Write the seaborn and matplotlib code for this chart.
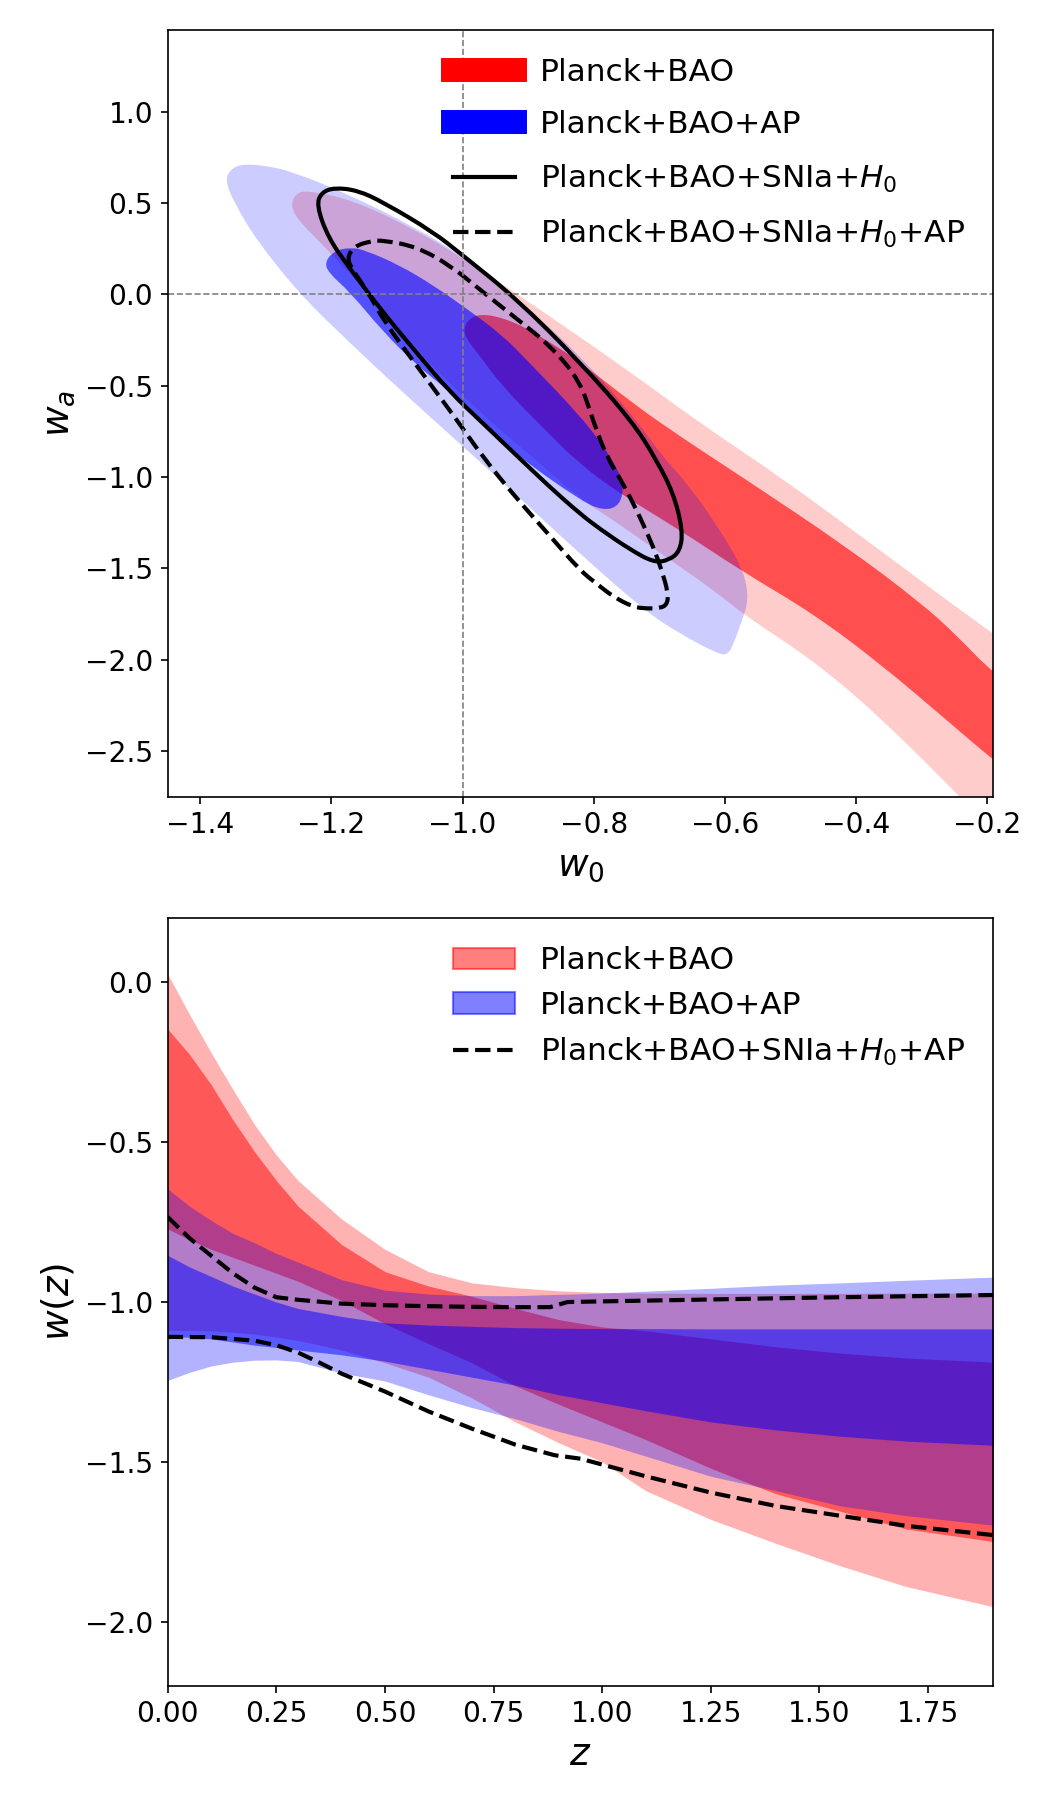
import numpy as np
import matplotlib
matplotlib.use("Agg")
import matplotlib.pyplot as plt
import seaborn as sns
from matplotlib.lines import Line2D
from matplotlib.patches import Patch, PathPatch
from matplotlib.path import Path

# ---------------- top panel: w0 - wa contours ----------------
# Planck+BAO, 2 sigma
red_out_w0 = [-1.238, -1.17, -1.08, -1.00, -0.92, -0.821, -0.727, -0.633, -0.515, -0.363, -0.261, -0.19,
              -0.10, -0.10, -0.21, -0.241, -0.363, -0.465, -0.566, -0.617, -0.668, -0.719, -0.770, -0.821,
              -0.90, -0.981, -1.08, -1.15, -1.223, -1.253, -1.262, -1.255]
red_out_wa = [0.571, 0.52, 0.37, 0.20, 0.01, -0.232, -0.469, -0.716, -0.999, -1.400, -1.674, -1.857,
              -2.10, -2.90, -2.87, -2.75, -2.313, -2.003, -1.766, -1.619, -1.492, -1.364, -1.236, -1.117,
              -0.87, -0.622, -0.27, 0.03, 0.307, 0.416, 0.489, 0.55]
# Planck+BAO, 1 sigma
red_in_w0 = [-0.998, -0.988, -0.965, -0.920, -0.867, -0.821, -0.760, -0.694, -0.566, -0.414, -0.300, -0.245,
             -0.190, -0.10, -0.10, -0.190, -0.261, -0.363, -0.465, -0.572, -0.668, -0.760, -0.821, -0.880,
             -0.940, -0.975, -0.995]
red_in_wa = [-0.18, -0.125, -0.105, -0.150, -0.260, -0.369, -0.540, -0.716, -1.017, -1.382, -1.690, -1.870,
             -2.076, -2.30, -2.80, -2.550, -2.331, -2.021, -1.747, -1.519, -1.291, -1.090, -0.93, -0.72,
             -0.50, -0.33, -0.24]
# Planck+BAO+AP, 2 sigma
blue_out_w0 = [-1.362, -1.355, -1.335, -1.300, -1.259, -1.172, -1.070, -0.994, -0.917, -0.821, -0.734, -0.699,
               -0.653, -0.607, -0.571, -0.563, -0.575, -0.585, -0.595, -0.612, -0.668, -0.719, -0.821, -0.917,
               -1.0, -1.096, -1.172, -1.248, -1.315, -1.348]
blue_out_wa = [0.62, 0.685, 0.715, 0.705, 0.672, 0.545, 0.363, 0.197, -0.021, -0.332, -0.688, -0.870,
               -1.052, -1.290, -1.510, -1.673, -1.80, -1.90, -1.975, -1.965, -1.858, -1.74, -1.42, -1.10,
               -0.83, -0.52, -0.265, 0.0, 0.30, 0.50]
# Planck+BAO+AP, 1 sigma
blue_in_w0 = [-1.21, -1.195, -1.170, -1.147, -1.096, -1.045, -0.994, -0.94, -0.898, -0.824, -0.782, -0.757,
              -0.755, -0.765, -0.785, -0.815, -0.918, -0.969, -1.019, -1.070, -1.121, -1.172, -1.205]
blue_in_wa = [0.18, 0.24, 0.258, 0.240, 0.160, 0.051, -0.077, -0.22, -0.374, -0.650, -0.843, -1.0,
              -1.10, -1.165, -1.18, -1.14, -0.88, -0.70, -0.533, -0.387, -0.205, 0.014, 0.12]
# Planck+BAO+SNIa+H0
sn_w0 = [-1.223, -1.215, -1.195, -1.160, -1.121, -1.045, -1.0, -0.918, -0.821, -0.740, -0.704, -0.678,
         -0.664, -0.668, -0.685, -0.708, -0.745, -0.790, -0.821, -0.867, -0.918, -0.969, -1.019, -1.070,
         -1.121, -1.172, -1.205]
sn_wa = [0.49, 0.56, 0.585, 0.57, 0.505, 0.343, 0.215, -0.022, -0.369, -0.70, -0.907, -1.090,
         -1.291, -1.405, -1.455, -1.468, -1.395, -1.285, -1.200, -1.054, -0.880, -0.705, -0.535, -0.32,
         -0.10, 0.142, 0.31]
# Planck+BAO+SNIa+H0+AP
snap_w0 = [-1.177, -1.165, -1.140, -1.121, -1.070, -1.019, -0.969, -0.918, -0.867, -0.821, -0.800, -0.780,
           -0.755, -0.729, -0.709, -0.696, -0.686, -0.688, -0.700, -0.719, -0.740, -0.770, -0.795, -0.821,
           -0.867, -0.918, -0.969, -1.010, -1.070, -1.121, -1.142, -1.165]
snap_wa = [0.197, 0.265, 0.292, 0.297, 0.261, 0.160, 0.014, -0.131, -0.278, -0.470, -0.700, -0.889,
           -1.035, -1.220, -1.382, -1.510, -1.637, -1.700, -1.718, -1.720, -1.711, -1.655, -1.585, -1.510,
           -1.320, -1.115, -0.890, -0.680, -0.390, -0.140, 0.0, 0.12]

# ---------------- bottom panel: w(z) bands ----------------
z = [0, 0.05, 0.1, 0.15, 0.2, 0.25, 0.3, 0.4, 0.5, 0.6, 0.7, 0.8, 0.9, 1.0, 1.1, 1.25, 1.4, 1.55, 1.7, 1.9]
red_out_hi = [0.026, -0.10, -0.22, -0.335, -0.445, -0.54, -0.62, -0.74, -0.835, -0.905, -0.94, -0.955,
              -0.965, -0.97, -0.972, -0.973, -0.973, -0.973, -0.972, -0.972]
red_out_lo = [-1.088, -1.089, -1.09, -1.095, -1.10, -1.11, -1.12, -1.15, -1.19, -1.235, -1.30, -1.375,
              -1.44, -1.50, -1.59, -1.68, -1.755, -1.826, -1.89, -1.953]
red_in_hi = [-0.146, -0.225, -0.32, -0.43, -0.53, -0.62, -0.70, -0.82, -0.905, -0.95, -0.982, -1.02,
             -1.055, -1.078, -1.09, -1.115, -1.14, -1.16, -1.175, -1.188]
red_in_lo = [-0.771, -0.805, -0.835, -0.86, -0.885, -0.91, -0.935, -0.995, -1.068, -1.13, -1.19, -1.262,
             -1.32, -1.375, -1.43, -1.52, -1.60, -1.655, -1.71, -1.749]
blue_out_hi = [-0.646, -0.70, -0.745, -0.785, -0.815, -0.848, -0.875, -0.93, -0.963, -0.975, -0.98,
               -0.98, -0.976, -0.972, -0.966, -0.957, -0.947, -0.94, -0.932, -0.922]
blue_out_lo = [-1.245, -1.22, -1.20, -1.188, -1.182, -1.181, -1.186, -1.222, -1.247, -1.29, -1.33,
               -1.365, -1.405, -1.44, -1.482, -1.545, -1.59, -1.638, -1.668, -1.698]
blue_in_hi = [-0.854, -0.89, -0.92, -0.95, -0.975, -1.0, -1.02, -1.045, -1.065, -1.072, -1.076, -1.08,
              -1.082, -1.083, -1.083, -1.084, -1.084, -1.084, -1.084, -1.084]
blue_in_lo = [-1.109, -1.11, -1.115, -1.125, -1.135, -1.142, -1.15, -1.165, -1.185, -1.21, -1.235, -1.26,
              -1.29, -1.315, -1.34, -1.375, -1.40, -1.42, -1.435, -1.448]

z_dash_hi = [0, 0.05, 0.1, 0.15, 0.2, 0.25, 0.3, 0.4, 0.5, 0.6, 0.7, 0.8, 0.88, 0.92, 1.0, 1.25, 1.5, 1.75, 1.9]
w_dash_hi = [-0.734, -0.80, -0.855, -0.91, -0.955, -0.985, -0.993, -1.005, -1.010, -1.013, -1.015, -1.016,
             -1.016, -1.0, -0.998, -0.992, -0.986, -0.981, -0.978]
z_dash_lo = [0, 0.1, 0.2, 0.25, 0.3, 0.35, 0.4, 0.5, 0.6, 0.7, 0.8, 0.89, 0.95, 1.1, 1.25, 1.4, 1.55, 1.7, 1.9]
w_dash_lo = [-1.109, -1.110, -1.121, -1.135, -1.158, -1.19, -1.224, -1.28, -1.342, -1.396, -1.446, -1.479,
             -1.49, -1.545, -1.596, -1.638, -1.669, -1.70, -1.729]

labels_top = ["Planck+BAO", "Planck+BAO+AP", r"Planck+BAO+SNIa+$H_0$", r"Planck+BAO+SNIa+$H_0$+AP"]
labels_bot = ["Planck+BAO", "Planck+BAO+AP", r"Planck+BAO+SNIa+$H_0$+AP"]


def rounded_path(xs, ys):
    # closed outline through the read points, corners drawn as quadratic curves
    pts = np.column_stack([xs, ys])
    mids = (pts + np.roll(pts, -1, axis=0)) / 2
    verts = [mids[-1]]
    codes = [Path.MOVETO]
    for i in range(len(pts)):
        verts += [pts[i], mids[i]]
        codes += [Path.CURVE3, Path.CURVE3]
    return Path(verts, codes)


fig = plt.figure(figsize=(7, 12), dpi=150)
ax1 = fig.add_axes([0.1597, 0.5574, 0.7863, 0.4261])
ax2 = fig.add_axes([0.1597, 0.0635, 0.7863, 0.4263])

# top panel
ax1.add_patch(PathPatch(rounded_path(red_out_w0, red_out_wa), fc="red", alpha=0.2, lw=0))
ax1.add_patch(PathPatch(rounded_path(red_in_w0, red_in_wa), fc="red", alpha=0.61, lw=0))
ax1.add_patch(PathPatch(rounded_path(blue_out_w0, blue_out_wa), fc="blue", alpha=0.2, lw=0))
ax1.add_patch(PathPatch(rounded_path(blue_in_w0, blue_in_wa), fc="blue", alpha=0.6, lw=0))
ax1.add_patch(PathPatch(rounded_path(sn_w0, sn_wa), fc="none", ec="k", lw=2.0))
ax1.add_patch(PathPatch(rounded_path(snap_w0, snap_wa), fc="none", ec="k", lw=2.0, ls="--"))
ax1.axvline(-1, color="grey", ls="--", lw=0.8)
ax1.axhline(0, color="grey", ls="--", lw=0.8)

ax1.set_xlim(-1.45, -0.19)
ax1.set_ylim(-2.75, 1.45)
ax1.set_xticks([-1.4, -1.2, -1.0, -0.8, -0.6, -0.4, -0.2])
ax1.set_yticks([-2.5, -2.0, -1.5, -1.0, -0.5, 0.0, 0.5, 1.0])
ax1.tick_params(labelsize=13.5)
ax1.set_xlabel(r"$w_0$", fontsize=18)
ax1.set_ylabel(r"$w_a$", fontsize=18)

h_top = [Line2D([], [], color="red", lw=11.5),
         Line2D([], [], color="blue", lw=11.5),
         Line2D([], [], color="k", lw=2.0),
         Line2D([], [], color="k", lw=2.0, ls="--")]
ax1.legend(h_top, labels_top, loc="upper right", frameon=False, fontsize=15, labelspacing=0.75)

# bottom panel
ax2.fill_between(z, red_out_lo, red_out_hi, color="red", alpha=0.3, lw=0)
ax2.fill_between(z, red_in_lo, red_in_hi, color="red", alpha=0.5, lw=0)
ax2.fill_between(z, blue_out_lo, blue_out_hi, color="blue", alpha=0.3, lw=0)
ax2.fill_between(z, blue_in_lo, blue_in_hi, color="blue", alpha=0.5, lw=0)
sns.lineplot(x=z_dash_hi, y=w_dash_hi, sort=False, estimator=None, color="k", lw=2.0,
             linestyle="--", ax=ax2)
sns.lineplot(x=z_dash_lo, y=w_dash_lo, sort=False, estimator=None, color="k", lw=2.0,
             linestyle="--", ax=ax2)

ax2.set_xlim(0, 1.9)
ax2.set_ylim(-2.2, 0.2)
ax2.set_xticks([0, 0.25, 0.5, 0.75, 1.0, 1.25, 1.5, 1.75])
ax2.set_yticks([-2.0, -1.5, -1.0, -0.5, 0.0])
ax2.tick_params(labelsize=13.5)
ax2.set_xlabel(r"$z$", fontsize=18)
ax2.set_ylabel(r"$w(z)$", fontsize=18)

h_bot = [Patch(color="red", alpha=0.5),
         Patch(color="blue", alpha=0.5),
         Line2D([], [], color="k", lw=2.0, ls="--")]
ax2.legend(h_bot, labels_bot, loc="upper right", frameon=False, fontsize=15)

fig.savefig("out.png", dpi=150)
